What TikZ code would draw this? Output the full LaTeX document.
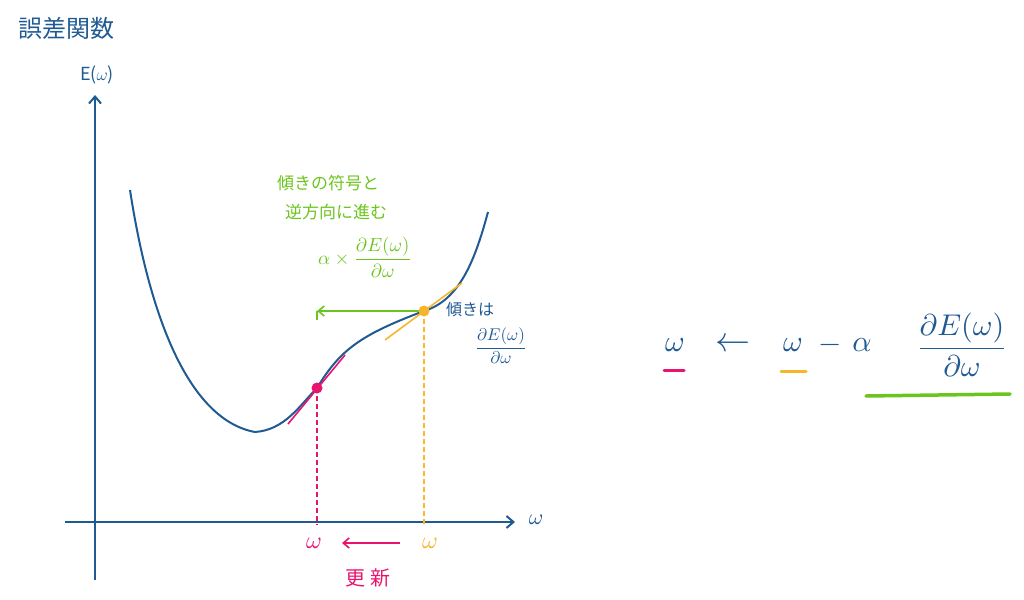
\documentclass[tikz,border=0pt]{standalone}
\usepackage{amsmath}
\usepackage{fontspec}
\setmainfont{Noto Sans CJK JP}
\usetikzlibrary{arrows.meta}
\definecolor{bl}{HTML}{1F5A93}
\definecolor{pk}{HTML}{E8156E}
\definecolor{yl}{HTML}{F7B52C}
\definecolor{gr}{HTML}{6CC51F}
\tikzset{ax/.style={bl,line width=2pt,-{Straight Barb[length=7pt,width=12pt]}},
 txt/.style={inner sep=0pt,font=\fontsize{16}{18}\selectfont},
 dsh/.style={line width=1.8pt,dash pattern=on 5pt off 3pt}}
\begin{document}
\begin{tikzpicture}[x=1pt,y=-1pt]
\useasboundingbox (0,0) rectangle (1024,599);
\node[txt,bl,font=\fontsize{24}{26}\selectfont] (title) at (66,28) {誤差関数};
\coordinate (yb) at (95,580); \coordinate (yt) at (95,95);
\coordinate (xl) at (65,522); \coordinate (xr) at (515,522);
\draw[ax] (yb) -- (yt);
\draw[ax] (xl) -- (xr);
\node[txt,bl,font=\fontsize{18}{20}\selectfont] (ey) at (97,75) {E($\omega$)};
\node[inner sep=0pt,bl,scale=2.2] (wx) at (536,520) {$\omega$};
\coordinate (pp) at (317,388); \coordinate (yp) at (424,311);
\draw[bl,line width=2pt] (130,190) .. controls (150,320) and (190,420) .. (255,432)
 .. controls (285,430) and (300,405) .. (pp)
 .. controls (340,350) and (360,335) .. (yp)
 .. controls (460,300) and (475,260) .. (488,212);
\draw[pk,line width=1.6pt] (288,424) -- (345,355);
\draw[yl,line width=1.6pt] (385,340) -- (462,283);
\draw[pk,dsh] (pp) -- (317,525);
\draw[yl,dsh] (yp) -- (424,525);
\coordinate (ga) at (317,311);
\draw[gr,line width=1.6pt,-{Straight Barb[length=6pt,width=10pt]}] (yp) -- (ga);
\draw[gr,line width=1.6pt] (ga) -- (317,320);
\fill[pk] (pp) circle (5.5);
\fill[yl] (yp) circle (5.5);
\node[inner sep=0pt,pk,scale=2.4] (w1) at (314,543) {$\omega$};
\node[inner sep=0pt,yl,scale=2.4] (w2) at (430,543) {$\omega$};
\draw[pk,line width=1.6pt,-{Straight Barb[length=6pt,width=10pt]}] (400,543) -- (342,543);
\node[txt,pk,font=\fontsize{20}{22}\selectfont] (up) at (368,578) {更 新};
\node[txt,gr,font=\fontsize{17}{19}\selectfont] (g1) at (328,183) {傾きの符号と};
\node[txt,gr,font=\fontsize{17}{19}\selectfont] (g2) at (336,212) {逆方向に進む};
\node[inner sep=0pt,gr,scale=1.9] (g3) at (365,257) {$\alpha\times\dfrac{\partial E(\omega)}{\partial\omega}$};
\node[txt,bl] (b1) at (470,309) {傾きは};
\node[inner sep=0pt,bl,scale=1.7] (b2) at (501,346) {$\dfrac{\partial E(\omega)}{\partial\omega}$};
\node[inner sep=0pt,bl,scale=3] (fw1) at (675,345) {$\omega$};
\node[inner sep=0pt,bl,scale=3.5] (fa) at (733,345) {$\leftarrow$};
\node[inner sep=0pt,bl,scale=3] (fw2) at (793,345) {$\omega$};
\node[inner sep=0pt,bl,scale=3] (fm) at (830,345) {$-$};
\node[inner sep=0pt,bl,scale=3] (fal) at (862,345) {$\alpha$};
\node[inner sep=0pt,bl,scale=3] (ff) at (962,345) {$\dfrac{\partial E(\omega)}{\partial\omega}$};
\draw[pk,line width=3pt,line cap=round] (664,370) -- (684,370);
\draw[yl,line width=3pt,line cap=round] (781,371) -- (806,371);
\draw[gr,line width=3.5pt,line cap=round] (866,396) -- (1010,394);
\end{tikzpicture}
\end{document}
